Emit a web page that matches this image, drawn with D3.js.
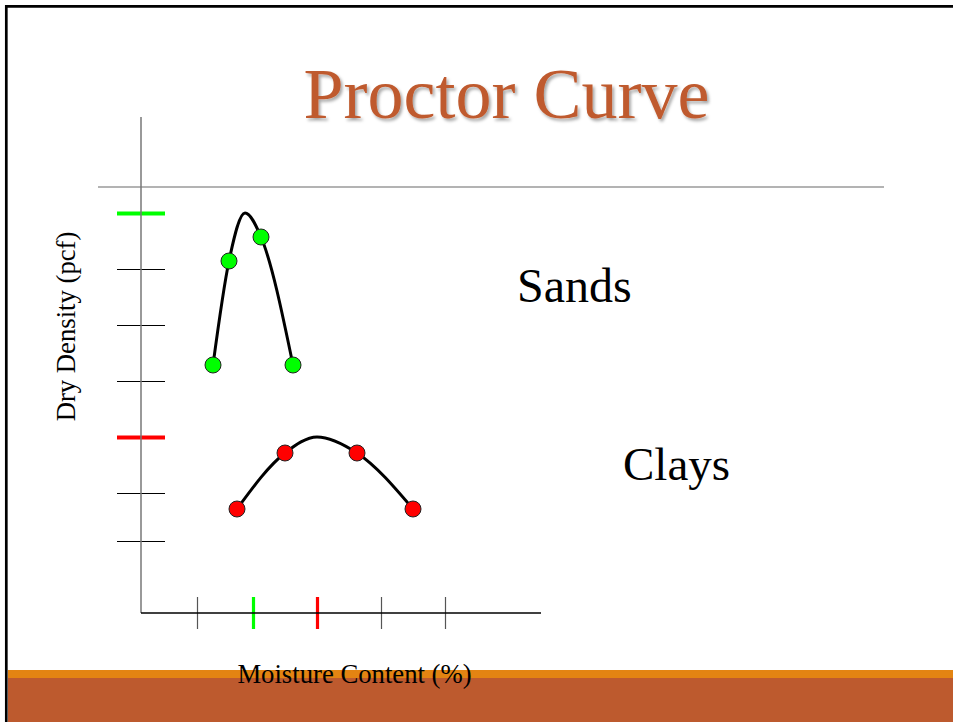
<!DOCTYPE html>
<html>
<head>
<meta charset="utf-8">
<script src="https://cdn.jsdelivr.net/npm/d3@7"></script>
<style>
  body { margin: 0; background: #fff; }
  text { font-family: "Liberation Serif", "Times New Roman", serif; }
</style>
</head>
<body>
<svg id="chart"></svg>
<script>
// sample points (moisture %, density units)
var sandMoisture = [9, 11, 15, 19];
var sandDensity = [31, 44, 47, 31];
var sandPeak = {x: 13, y: 50};

var clayMoisture = [12, 18, 27, 34];
var clayDensity = [13, 20, 20, 13];
var clayPeak = {x: 22, y: 22};

var xTicks = [7, 14, 22, 30, 38];
var yTicks = [9, 15, 22, 29, 36, 43, 50];

var sandColor = "#00ff00";
var clayColor = "#ff0000";

var screen = {width: 953, height: 722};

var svg = d3.select("#chart")
    .attr("width", screen.width)
    .attr("height", screen.height);

// slide frame and footer band
svg.append("rect")
    .attr("x", 8).attr("y", 670)
    .attr("width", screen.width - 8).attr("height", 8)
    .attr("fill", "#e38412");
svg.append("rect")
    .attr("x", 8).attr("y", 678)
    .attr("width", screen.width - 8).attr("height", screen.height - 678)
    .attr("fill", "#bd5a2e");
svg.append("path")
    .attr("d", "M6.3," + screen.height + "V6.3H" + screen.width)
    .attr("fill", "none")
    .attr("stroke", "#000")
    .attr("stroke-width", 2.7);

// title with soft shadow
var defs = svg.append("defs");
var shadow = defs.append("filter").attr("id", "shadow")
    .attr("x", "-5%").attr("y", "-20%").attr("width", "110%").attr("height", "140%");
shadow.append("feDropShadow")
    .attr("dx", 2).attr("dy", 2.5)
    .attr("stdDeviation", 1.5)
    .attr("flood-color", "#000")
    .attr("flood-opacity", 0.35);

svg.append("text")
    .attr("x", 506.5).attr("y", 118)
    .attr("text-anchor", "middle")
    .attr("font-size", 72)
    .attr("fill", "#bf5a2e")
    .attr("filter", "url(#shadow)")
    .text("Proctor Curve");

svg.append("line")
    .attr("x1", 98).attr("x2", 884)
    .attr("y1", 187).attr("y2", 187)
    .attr("stroke", "#9a9a9a")
    .attr("stroke-width", 1.3);

// scales
var xScale = d3.scaleLinear().domain([0, 50]).range([141, 541]);
var yScale = d3.scaleLinear().domain([0, 62]).range([613, 117]);

// y ticks cross the axis line
var yAxis = d3.axisLeft(yScale).tickValues(yTicks).tickSize(48).tickFormat("");
var gy = svg.append("g")
    .attr("transform", "translate(" + (xScale(0) + 24) + ",0)")
    .call(yAxis);
gy.select(".domain").remove();
gy.selectAll(".tick line")
    .attr("stroke", function(d) { return d == sandPeak.y ? sandColor : d == clayPeak.y ? clayColor : "#000"; })
    .attr("stroke-width", function(d) { return d == sandPeak.y || d == clayPeak.y ? 4 : 1.2; });

var xAxis = d3.axisBottom(xScale).tickValues(xTicks).tickSize(32).tickFormat("");
var gx = svg.append("g")
    .attr("transform", "translate(0," + (yScale(0) - 16) + ")")
    .call(xAxis);
gx.select(".domain").remove();
gx.selectAll(".tick line")
    .attr("stroke", function(d) { return d == 14 ? sandColor : d == clayPeak.x ? clayColor : "#555"; })
    .attr("stroke-width", function(d) { return d == 14 || d == clayPeak.x ? 3.2 : 1.2; });

// axis lines
svg.append("line")
    .attr("x1", xScale(0)).attr("x2", xScale(0))
    .attr("y1", yScale(62)).attr("y2", yScale(0))
    .attr("stroke", "#777").attr("stroke-width", 1.5);
svg.append("line")
    .attr("x1", xScale(0)).attr("x2", xScale(50))
    .attr("y1", yScale(0)).attr("y2", yScale(0))
    .attr("stroke", "#000").attr("stroke-width", 1.5);

// curves
var line = d3.line()
    .x(function(d) { return xScale(d.x); })
    .y(function(d) { return yScale(d.y); })
    .curve(d3.curveMonotoneX);

var toPoints = function(xs, ys) {
    return xs.map(function(x, i) { return {x: x, y: ys[i]}; });
};

var drawSeries = function(xs, ys, peak, color) {
    var pts = toPoints(xs, ys);
    var curvePts = pts.concat([peak]).sort(function(a, b) { return a.x - b.x; });
    svg.append("path")
        .datum(curvePts)
        .attr("d", line)
        .attr("fill", "none")
        .attr("stroke", "#000")
        .attr("stroke-width", 3);
    svg.append("g").selectAll("circle")
        .data(pts)
        .enter()
        .append("circle")
        .attr("cx", function(d) { return xScale(d.x); })
        .attr("cy", function(d) { return yScale(d.y); })
        .attr("r", 8)
        .attr("fill", color)
        .attr("stroke", "#222")
        .attr("stroke-width", 1);
};

drawSeries(sandMoisture, sandDensity, sandPeak, sandColor);
drawSeries(clayMoisture, clayDensity, clayPeak, clayColor);

// labels
svg.append("text")
    .attr("transform", "translate(75,326.5) rotate(-90)")
    .attr("text-anchor", "middle")
    .attr("font-size", 26.7)
    .text("Dry Density (pcf)");

svg.append("text")
    .attr("x", 354.5).attr("y", 683)
    .attr("text-anchor", "middle")
    .attr("font-size", 26.7)
    .text("Moisture Content (%)");

svg.append("text")
    .attr("x", 517).attr("y", 302)
    .attr("font-size", 48)
    .text("Sands");

svg.append("text")
    .attr("x", 623).attr("y", 480)
    .attr("font-size", 47)
    .text("Clays");
</script>
</body>
</html>
